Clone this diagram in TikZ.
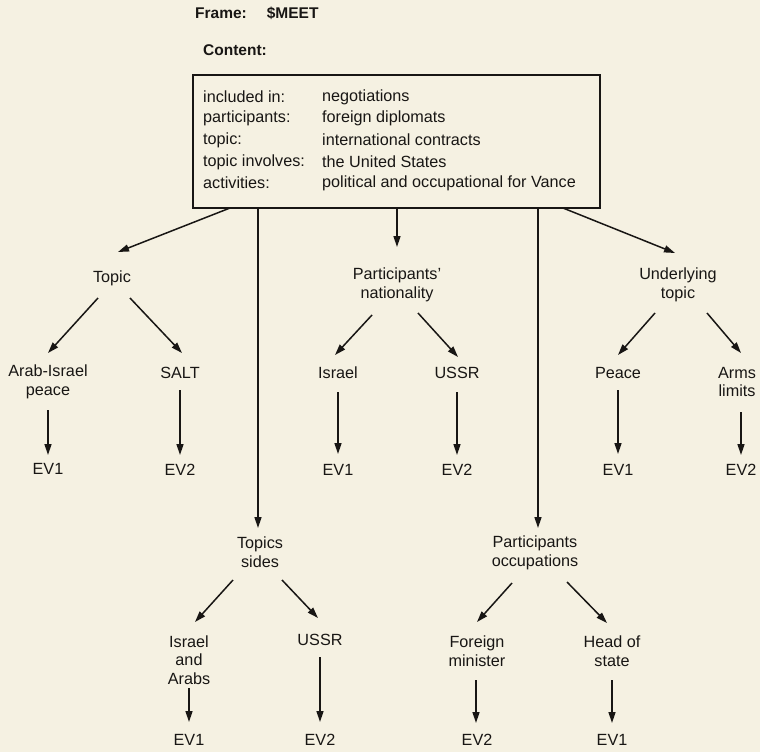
\documentclass[tikz,border=0pt]{standalone}
\usepackage{fontspec}
\setmainfont{Liberation Sans}
\usetikzlibrary{arrows.meta,calc}
\definecolor{paper}{RGB}{245,241,226}
\definecolor{ink}{RGB}{24,22,20}
\begin{document}
\begin{tikzpicture}[x=1pt,y=-1pt,
  lbl/.style={font=\fontsize{16.2}{18.5}\selectfont, inner sep=0pt, align=center, text=ink},
  rowtxt/.style={font=\fontsize{16.2}{18.5}\selectfont, inner sep=0pt, anchor=west, text=ink},
  arr/.style={draw=ink, line width=1.5pt, -{Triangle[length=11pt,width=7pt]}},
  framebox/.style={draw=ink, line width=2pt, minimum width=407pt, minimum height=133pt, inner sep=0pt}]
\fill[paper] (0,0) rectangle (760,752);
\useasboundingbox (0,0) rectangle (760,752);

% header
\node[rowtxt, font=\fontsize{15.5}{18.5}\selectfont\bfseries] (frame) at (195,13) {Frame:\hspace{20pt}\$MEET};
\node[rowtxt, font=\fontsize{15.5}{18.5}\selectfont\bfseries] (content) at (203,50) {Content:};

% content box
\node[framebox] (box) at (396.5,141.5) {};
\node[rowtxt] (k1) at (203,97) {included in:};
\node[rowtxt] (k2) at (203,118) {participants:};
\node[rowtxt] (k3) at (203,140) {topic:};
\node[rowtxt] (k4) at (203,162) {topic involves:};
\node[rowtxt] (k5) at (203,183) {activities:};
\node[rowtxt] (v1) at (322,97) {negotiations};
\node[rowtxt] (v2) at (322,118) {foreign diplomats};
\node[rowtxt] (v3) at (322,140) {international contracts};
\node[rowtxt] (v4) at (322,162) {the United States};
\node[rowtxt] (v5) at (322,183) {political and occupational for Vance};

% labels
\node[lbl] (topic) at (112,278) {Topic};
\node[lbl] (arab) at (48,382) {Arab-Israel\\peace};
\node[lbl] (salt) at (180,373) {SALT};
\node[lbl] (ev1a) at (48,469) {EV1};
\node[lbl] (ev2a) at (180,470) {EV2};

\node[lbl] (pnat) at (397,285) {Participants'\\nationality};
\node[lbl] (israel) at (338,373) {Israel};
\node[lbl] (ussra) at (457,373) {USSR};
\node[lbl] (ev1b) at (338,470) {EV1};
\node[lbl] (ev2b) at (457,470) {EV2};

\node[lbl] (under) at (678,285) {Underlying\\topic};
\node[lbl] (peace) at (618,373) {Peace};
\node[lbl] (arms) at (737,382) {Arms\\limits};
\node[lbl] (ev1c) at (618,470) {EV1};
\node[lbl] (ev2c) at (741,470) {EV2};

\node[lbl] (tsides) at (260,552) {Topics\\sides};
\node[lbl] (iaa) at (189,660) {Israel\\and\\Arabs};
\node[lbl] (ussrb) at (320,640) {USSR};
\node[lbl] (ev1d) at (189,740) {EV1};
\node[lbl] (ev2d) at (320,740) {EV2};

\node[lbl] (pocc) at (535,553) {Participants\\occupations};
\node[lbl] (fmin) at (477,651) {Foreign\\minister};
\node[lbl] (hos) at (612,651) {Head of\\state};
\node[lbl] (ev2e) at (477,740) {EV2};
\node[lbl] (ev1e) at (612,740) {EV1};

% connectors from the box
\draw[arr] ($(box)+(-166.5,66.5)$) -- ($(topic)+(6,-26)$);
\draw[arr] ($(box)+(0.5,66.5)$) -- ($(pnat)+(0,-38)$);
\draw[arr] ($(box)+(166.5,66.5)$) -- ($(under)+(-3,-32)$);
\draw[arr] ($(box)+(-138.5,66.5)$) -- ($(tsides)+(-2,-24)$);
\draw[arr] ($(box)+(141.5,66.5)$) -- ($(pocc)+(3,-25)$);

% topic branch
\draw[arr] ($(topic)+(-14,20)$) -- ($(arab)+(0,-29)$);
\draw[arr] ($(topic)+(18,20)$) -- ($(salt)+(2,-20)$);
\draw[arr] ($(arab)+(0,28)$) -- ($(ev1a)+(0,-14)$);
\draw[arr] ($(salt)+(0,17)$) -- ($(ev2a)+(0,-15)$);

% nationality branch
\draw[arr] ($(pnat)+(-25,30)$) -- ($(israel)+(-3,-18)$);
\draw[arr] ($(pnat)+(21,28)$) -- ($(ussra)+(1,-16)$);
\draw[arr] ($(israel)+(0,19)$) -- ($(ev1b)+(0,-16)$);
\draw[arr] ($(ussra)+(0,19)$) -- ($(ev2b)+(0,-15)$);

% underlying topic branch
\draw[arr] ($(under)+(-23,28)$) -- ($(peace)+(0,-18)$);
\draw[arr] ($(under)+(29,28)$) -- ($(arms)+(4,-29)$);
\draw[arr] ($(peace)+(0,17)$) -- ($(ev1c)+(0,-16)$);
\draw[arr] ($(arms)+(4,30)$) -- ($(ev2c)+(0,-15)$);

% topics sides branch
\draw[arr] ($(tsides)+(-27,28)$) -- ($(iaa)+(6,-38)$);
\draw[arr] ($(tsides)+(22,28)$) -- ($(ussrb)+(-2,-22)$);
\draw[arr] ($(iaa)+(0,28)$) -- ($(ev1d)+(0,-18)$);
\draw[arr] ($(ussrb)+(0,17)$) -- ($(ev2d)+(0,-18)$);

% occupations branch
\draw[arr] ($(pocc)+(-23,30)$) -- ($(fmin)+(0,-29)$);
\draw[arr] ($(pocc)+(32,29)$) -- ($(hos)+(-5,-28)$);
\draw[arr] ($(fmin)+(-1,29)$) -- ($(ev2e)+(-1,-17)$);
\draw[arr] ($(hos)+(0,29)$) -- ($(ev1e)+(0,-17)$);
\end{tikzpicture}
\end{document}
